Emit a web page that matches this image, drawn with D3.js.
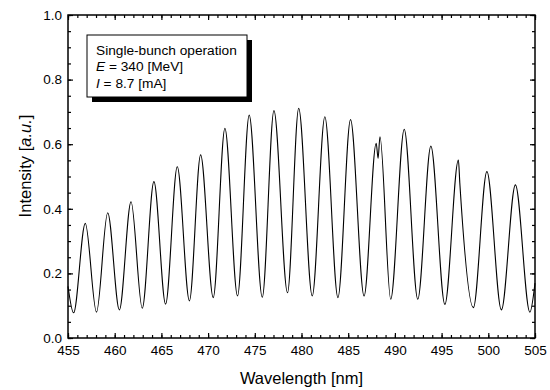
<!DOCTYPE html>
<html>
<head>
<meta charset="utf-8">
<script src="https://cdn.jsdelivr.net/npm/d3@7/dist/d3.min.js"></script>
<style>
	body { margin: 0; background: #ffffff; }
	svg { display: block; font-family: "Liberation Sans", Arial, sans-serif; }
	.tick text { font-size: 13.5px; fill: #000000; }
	.tick line { stroke: #000000; stroke-width: 1.2px; }
</style>
</head>
<body>
<svg id="chart" width="550" height="390"></svg>
<script>
// spectrum: start, then alternating troughs / peaks, end
var wavelength = [
	455.0, 455.6, 456.85, 458.05, 459.25, 460.5, 461.75, 462.95, 464.2, 465.45,
	466.7, 468.0, 469.2, 470.55, 471.8, 473.15, 474.4, 475.8, 477.05, 478.5,
	479.7, 481.15, 482.5, 483.9, 485.25, 486.7, 488.0, 488.2, 488.4, 489.55,
	491.0, 492.45, 493.85, 495.35, 496.8, 496.95, 498.4, 499.85, 501.4, 502.9,
	504.45, 505.0
];
var intensity = [
	0.160, 0.078, 0.355, 0.080, 0.388, 0.087, 0.422, 0.092, 0.484, 0.105,
	0.530, 0.115, 0.567, 0.125, 0.649, 0.130, 0.690, 0.126, 0.704, 0.140,
	0.711, 0.130, 0.685, 0.125, 0.676, 0.130, 0.603, 0.556, 0.623, 0.120,
	0.646, 0.120, 0.594, 0.104, 0.551, 0.480, 0.094, 0.515, 0.087, 0.474,
	0.080, 0.170
];

var xTicks = [455, 460, 465, 470, 475, 480, 485, 490, 495, 500, 505];
var yTicks = [0.0, 0.2, 0.4, 0.6, 0.8, 1.0];
var legendLines = [
	[{ t: "Single-bunch operation" }],
	[{ t: "E", it: true }, { t: " = 340 [MeV]" }],
	[{ t: "I", it: true }, { t: " = 8.7 [mA]" }]
];

(function()
{
	var pLeft = 68, pRight = 535, pTop = 15, pBottom = 338;

	var svg = d3.select("#chart");

	var x = d3.scaleLinear().domain([455, 505]).range([pLeft, pRight]);
	var y = d3.scaleLinear().domain([0, 1]).range([pBottom, pTop]);

	var xMinor = d3.range(455, 506, 1);
	var yMinor = d3.range(0, 1.0001, 0.05);

	function noLabel() { return ""; }

	function axis(gen, tx, ty)
	{
		return svg.append("g").attr("transform", "translate(" + tx + "," + ty + ")").call(gen);
	}

	// bottom: labelled majors + minors
	axis(d3.axisBottom(x).tickValues(xMinor).tickSize(-3).tickFormat(noLabel), 0, pBottom);
	axis(d3.axisBottom(x).tickValues(xTicks).tickSize(-5).tickPadding(7).tickFormat(d3.format("d")), 0, pBottom);

	// top
	axis(d3.axisTop(x).tickValues(xMinor).tickSize(-3).tickFormat(noLabel), 0, pTop);
	axis(d3.axisTop(x).tickValues(xTicks).tickSize(-5).tickFormat(noLabel), 0, pTop);

	// left
	axis(d3.axisLeft(y).tickValues(yMinor).tickSize(-3).tickFormat(noLabel), pLeft, 0);
	axis(d3.axisLeft(y).tickValues(yTicks).tickSize(-5).tickPadding(6).tickFormat(d3.format(".1f")), pLeft, 0);

	// right
	axis(d3.axisRight(y).tickValues(yMinor).tickSize(-3).tickFormat(noLabel), pRight, 0);
	axis(d3.axisRight(y).tickValues(yTicks).tickSize(-5).tickFormat(noLabel), pRight, 0);

	svg.selectAll(".domain").remove();

	// frame
	svg.append("rect")
		.attr("x", pLeft).attr("y", pTop)
		.attr("width", pRight - pLeft).attr("height", pBottom - pTop)
		.attr("fill", "none").attr("stroke", "#000000").attr("stroke-width", 1.5);

	// spectrum
	var points = wavelength.map(function(d, i)
	{
		return [d, intensity[i]];
	});

	var line = d3.line()
		.x(function(d) { return x(d[0]); })
		.y(function(d) { return y(d[1]); })
		.curve(d3.curveMonotoneX);

	svg.append("path")
		.datum(points)
		.attr("d", line)
		.attr("fill", "none")
		.attr("stroke", "#000000")
		.attr("stroke-width", 1.1);

	// legend box with drop shadow
	var lg = svg.append("g").attr("transform", "translate(87,35)");
	lg.append("rect").attr("x", 5).attr("y", 5).attr("width", 160).attr("height", 62).attr("fill", "#000000");
	lg.append("rect").attr("x", 0).attr("y", 0).attr("width", 160).attr("height", 62)
		.attr("fill", "#ffffff").attr("stroke", "#000000").attr("stroke-width", 1);

	legendLines.forEach(function(parts, i)
	{
		var t = lg.append("text")
			.attr("x", 9)
			.attr("y", 19.5 + i * 16.7)
			.attr("font-size", "13.7px");
		parts.forEach(function(p)
		{
			t.append("tspan").attr("font-style", p.it ? "italic" : null).text(p.t);
		});
	});

	// axis titles
	svg.append("text")
		.attr("x", (pLeft + pRight) / 2).attr("y", 384)
		.attr("text-anchor", "middle").attr("font-size", "16.5px")
		.text("Wavelength [nm]");

	var yl = svg.append("text")
		.attr("transform", "translate(31,166) rotate(-90)")
		.attr("text-anchor", "middle").attr("font-size", "16.5px");
	yl.append("tspan").text("Intensity [");
	yl.append("tspan").attr("font-style", "italic").text("a.u.");
	yl.append("tspan").text("]");
})();
</script>
</body>
</html>
